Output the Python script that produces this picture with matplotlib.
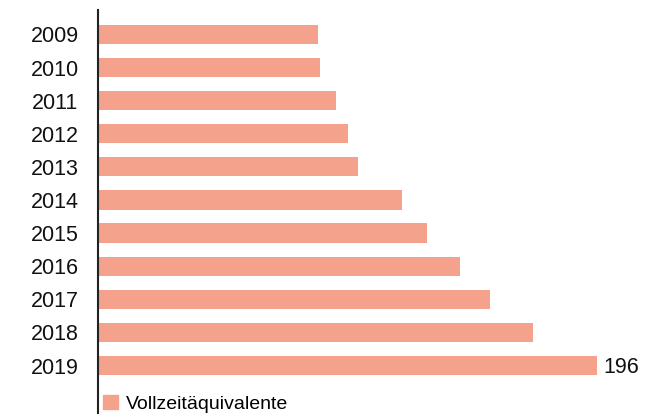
import matplotlib.pyplot as plt
import matplotlib.patches as mpatches

# data
years = ["2009", "2010", "2011", "2012", "2013", "2014", "2015", "2016", "2017", "2018", "2019"]
values = [86.5, 87.3, 93.5, 98.2, 102.1, 119.4, 129.2, 142.2, 154.0, 171.0, 196]
bar_color = "#F5A28C"

plt.rcParams['font.family'] = ['Liberation Sans', 'DejaVu Sans']

fig = plt.figure(figsize=(6.64, 4.15), dpi=100)
ax = fig.add_axes([98 / 664, 2 / 415, 566 / 664, 403 / 415])

y = list(range(len(years)))
ax.barh(y, values, height=0.58, color=bar_color, left=0)
ax.set_xlim(0, 196 * 566 / 499)
ax.set_ylim(11.435, -0.74)

ax.set_yticks(y)
ax.set_yticklabels(years, fontsize=15.5, color="#111111")
ax.tick_params(axis="y", length=0, pad=14)
ax.set_xticks([])
for s in ["top", "right", "bottom"]:
    ax.spines[s].set_visible(False)
ax.spines["left"].set_color("#222222")
ax.spines["left"].set_linewidth(1.5)

# only the last bar gets its value
ax.text(values[-1] + 2.5, y[-1] + 0.05, str(values[-1]), va="center", ha="left",
        fontsize=15.5, color="#111111")

handle = mpatches.Patch(color=bar_color, label="Vollzeitäquivalente")
ax.legend(handles=[handle], loc="lower left", bbox_to_anchor=(5 / 566, 0.0),
          frameon=False, fontsize=14, handlelength=0.75, handleheight=0.75,
          handletextpad=0.45, borderpad=0, borderaxespad=0)

fig.savefig("out.png", dpi=100)
